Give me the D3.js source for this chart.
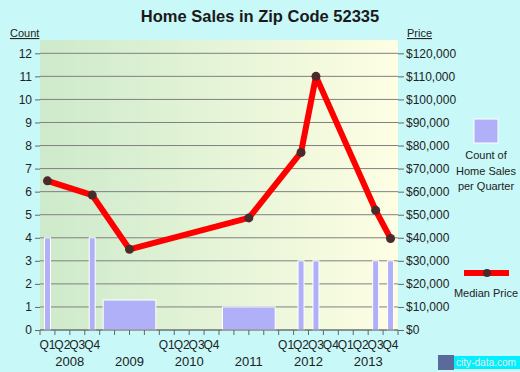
<!DOCTYPE html>
<html>
<head>
<meta charset="utf-8">
<script src="https://cdn.jsdelivr.net/npm/d3@7"></script>
<style>
  body { margin: 0; background: #c8f8f8; }
  svg { display: block; font-family: Arial, "Liberation Sans", sans-serif; }
</style>
</head>
<body>
<svg id="svg" width="520" height="372"></svg>
<script>
// Data
const yearLabels = ['2008', '2009', '2010', '2011', '2012', '2013'];
const quarterLabels = ['Q1', 'Q2', 'Q3', 'Q4'];
const quarterlyYears = ['2008', '2010', '2012', '2013'];
const countTicks = [0, 1, 2, 3, 4, 5, 6, 7, 8, 9, 10, 11, 12];
const priceTicks = [0, 10000, 20000, 30000, 40000, 50000, 60000, 70000, 80000, 90000, 100000, 110000, 120000];

const salesPeriods = ['2008 Q1', '2008 Q4', '2009', '2011', '2012 Q2', '2012 Q3', '2013 Q3', '2013 Q4'];
const salesCounts = [4, 4, 1.3, 1, 3, 3, 3, 3];

const pricePeriods = ['2008 Q1', '2008 Q4', '2009', '2011', '2012 Q2', '2012 Q3', '2013 Q3', '2013 Q4'];
const medianPrices = [64700, 58500, 35000, 48600, 77000, 110000, 51900, 39700];

const svg = d3.select('#svg');
const plotLeft = 40, plotRight = 398, plotTop = 40, plotBottom = 330;

const quarterKeys = yearLabels.flatMap((yr) => quarterLabels.map((q) => `${yr} ${q}`));
const xq = d3.scaleBand().domain(quarterKeys).range([plotLeft, plotRight]);
const xy = d3.scaleBand().domain(yearLabels).range([plotLeft, plotRight]);
const y = d3.scaleLinear().domain([0, 12]).range([plotBottom, 53.3]);
const yp = d3.scaleLinear().domain([0, 120000]).range([plotBottom, 53.3]);

const isQuarter = (p) => p.includes(' Q');
const centerX = (p) => (isQuarter(p) ? xq(p) + xq.bandwidth() / 2 : xy(p) + xy.bandwidth() / 2);

// Background gradient
const defs = svg.append('defs');
const grad = defs.append('linearGradient').attr('id', 'bg').attr('x1', 0).attr('x2', 1).attr('y1', 0).attr('y2', 0);
grad.append('stop').attr('offset', 0).attr('stop-color', '#cdeacb');
grad.append('stop').attr('offset', 1).attr('stop-color', '#fefee3');

svg.append('rect')
  .attr('x', plotLeft).attr('y', plotTop)
  .attr('width', plotRight - plotLeft).attr('height', plotBottom - plotTop)
  .attr('fill', 'url(#bg)');

// Title
svg.append('text')
  .attr('x', 260).attr('y', 22)
  .attr('text-anchor', 'middle')
  .attr('font-size', 16.5).attr('font-weight', 'bold')
  .attr('fill', '#1a1a1a')
  .text('Home Sales in Zip Code 52335');

// Gridlines
svg.append('g')
  .selectAll('line')
  .data(countTicks)
  .enter()
  .append('line')
  .attr('x1', plotLeft).attr('x2', plotRight)
  .attr('y1', (d) => y(d)).attr('y2', (d) => y(d))
  .attr('stroke', '#808080').attr('stroke-width', 1);

// Left axis
const gLeft = svg.append('g')
  .attr('transform', `translate(${plotLeft},0)`)
  .call(d3.axisLeft(y).tickValues(countTicks).tickSize(5).tickPadding(3));
gLeft.select('.domain').remove();
gLeft.selectAll('line').attr('stroke', '#666');
gLeft.selectAll('text').attr('font-size', 12).attr('fill', '#222').attr('font-family', 'Arial, "Liberation Sans", sans-serif');

// Right axis
const gRight = svg.append('g')
  .attr('transform', `translate(${plotRight},0)`)
  .call(d3.axisRight(yp).tickValues(priceTicks).tickSize(6).tickPadding(2)
    .tickFormat((d) => '$' + d3.format(',')(d)));
gRight.select('.domain').remove();
gRight.selectAll('line').attr('stroke', '#666');
gRight.selectAll('text').attr('font-size', 12).attr('fill', '#222').attr('font-family', 'Arial, "Liberation Sans", sans-serif');

// Axis titles
svg.append('text').attr('x', 10).attr('y', 37).attr('font-size', 11)
  .attr('text-decoration', 'underline').attr('fill', '#222').text('Count');
svg.append('text').attr('x', 407).attr('y', 37).attr('font-size', 11)
  .attr('text-decoration', 'underline').attr('fill', '#222').text('Price');

// Bars
svg.append('g')
  .selectAll('rect')
  .data(salesPeriods.map((p, i) => ({ p, v: salesCounts[i] })))
  .enter()
  .append('rect')
  .attr('x', (d) => (isQuarter(d.p) ? centerX(d.p) - 3 : xy(d.p) + 3.5))
  .attr('width', (d) => (isQuarter(d.p) ? 6 : xy.bandwidth() - 7))
  .attr('y', (d) => y(d.v))
  .attr('height', (d) => plotBottom - y(d.v))
  .attr('fill', '#b0b0f8')
  .attr('stroke', '#fff').attr('stroke-width', 1);

// Bottom axis
const gBottom = svg.append('g').attr('transform', `translate(0,${plotBottom})`);
gBottom.append('line').attr('x1', plotLeft).attr('x2', plotRight).attr('stroke', '#666');
gBottom.selectAll('line.tick')
  .data(quarterKeys.concat(['end']))
  .enter()
  .append('line')
  .attr('class', 'tick')
  .attr('x1', (d) => (d === 'end' ? plotRight : xq(d)))
  .attr('x2', (d) => (d === 'end' ? plotRight : xq(d)))
  .attr('y1', 0).attr('y2', 5)
  .attr('stroke', '#666');
gBottom.selectAll('text.q')
  .data(quarterKeys.filter((k) => quarterlyYears.includes(k.split(' ')[0])))
  .enter()
  .append('text')
  .attr('class', 'q')
  .attr('x', (d) => xq(d) + xq.bandwidth() / 2)
  .attr('y', 19)
  .attr('text-anchor', 'middle')
  .attr('font-size', 12).attr('fill', '#222')
  .text((d) => d.split(' ')[1]);
gBottom.selectAll('text.yr')
  .data(yearLabels)
  .enter()
  .append('text')
  .attr('class', 'yr')
  .attr('x', (d) => xy(d) + xy.bandwidth() / 2)
  .attr('y', 36)
  .attr('text-anchor', 'middle')
  .attr('font-size', 13).attr('fill', '#222')
  .text((d) => d);

// Median price line
const pts = pricePeriods.map((p, i) => ({ x: centerX(p), y: yp(medianPrices[i]) }));
svg.append('path')
  .datum(pts)
  .attr('d', d3.line().x((d) => d.x).y((d) => d.y))
  .attr('fill', 'none')
  .attr('stroke', '#ff0000').attr('stroke-width', 6)
  .attr('stroke-linejoin', 'round');
svg.append('g')
  .selectAll('circle')
  .data(pts)
  .enter()
  .append('circle')
  .attr('cx', (d) => d.x).attr('cy', (d) => d.y)
  .attr('r', 4.5)
  .attr('fill', '#4a2a2a');

// Legend
const lg = svg.append('g');
lg.append('rect').attr('x', 474).attr('y', 119).attr('width', 24).attr('height', 24)
  .attr('fill', '#b0b0f8').attr('stroke', '#fff');
['Count of', 'Home Sales', 'per Quarter'].forEach((t, i) => {
  lg.append('text').attr('x', 486).attr('y', 159 + i * 15.5).attr('text-anchor', 'middle')
    .attr('font-size', 11).attr('fill', '#222').text(t);
});
lg.append('line').attr('x1', 464).attr('x2', 509).attr('y1', 273).attr('y2', 273)
  .attr('stroke', '#ff0000').attr('stroke-width', 6);
lg.append('circle').attr('cx', 487).attr('cy', 273).attr('r', 4).attr('fill', '#4a2a2a');
lg.append('text').attr('x', 486).attr('y', 297).attr('text-anchor', 'middle')
  .attr('font-size', 11).attr('fill', '#222').text('Median Price');

// Watermark
const wm = svg.append('g');
wm.append('rect').attr('x', 438).attr('y', 355).attr('width', 16).attr('height', 15).attr('fill', '#5a6a9a');
wm.append('rect').attr('x', 454).attr('y', 356).attr('width', 66).attr('height', 13).attr('fill', '#00f0ff');
wm.append('text').attr('x', 456).attr('y', 366).attr('font-size', 11).attr('fill', '#e8e8e8')
  .attr('textLength', 60).attr('lengthAdjust', 'spacingAndGlyphs')
  .text('city-data.com');
</script>
</body>
</html>
